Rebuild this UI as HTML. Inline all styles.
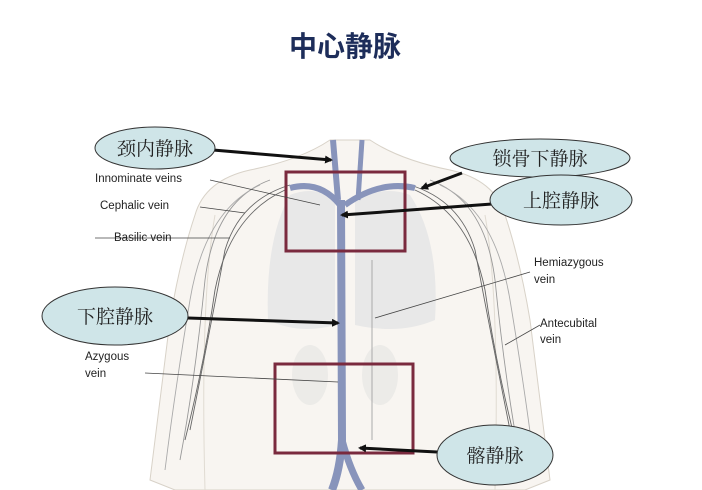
<!DOCTYPE html>
<html><head><meta charset="utf-8"><style>
body{margin:0;background:#fff;width:702px;height:490px;overflow:hidden}
svg{display:block}
</style></head><body>
<svg width="702" height="490" viewBox="0 0 702 490" xmlns="http://www.w3.org/2000/svg">
<defs><marker id="ah" markerWidth="8" markerHeight="8" refX="6" refY="4" orient="auto" markerUnits="userSpaceOnUse"><path d="M0,0 L8,4 L0,8 Z" fill="#111"/></marker></defs>
<text x="345" y="56" text-anchor="middle" font-family="Liberation Sans, Noto Sans CJK SC, sans-serif" font-size="28" font-weight="bold" fill="#1d2d5a">中心静脉</text>
<!-- torso -->
<path d="M250,170 Q205,180 195,215 Q180,260 170,320 Q160,400 150,480 L175,490 L525,490 L550,480 Q540,400 530,320 Q520,260 505,215 Q495,180 450,170 Q400,160 370,140 L330,140 Q300,160 250,170 Z" fill="#f8f5f1" stroke="#d8d2c8" stroke-width="1"/>
<path d="M215,215 Q200,300 205,490 M485,215 Q500,300 495,490" fill="none" stroke="#e0dbd2"/>
<!-- lungs -->
<path d="M290,195 Q265,240 268,320 Q300,335 335,325 L335,200 Q315,185 290,195 Z" fill="#e8e8e8"/>
<path d="M410,195 Q440,240 435,320 Q400,335 355,325 L355,200 Q385,185 410,195 Z" fill="#e8e8e8"/>
<ellipse cx="310" cy="375" rx="18" ry="30" fill="#ecebe8"/><ellipse cx="380" cy="375" rx="18" ry="30" fill="#ecebe8"/>
<!-- arm veins -->
<g fill="none" stroke="#666" stroke-width="0.9">
<path d="M290,185 Q240,200 225,250 Q210,330 190,430"/>
<path d="M285,190 Q230,215 215,290 Q205,360 185,440"/>
<path d="M410,185 Q460,200 475,250 Q490,330 510,430"/>
<path d="M415,190 Q470,215 485,290 Q495,360 515,440"/>
<path d="M270,180 Q215,200 205,280 Q195,380 180,460" stroke="#999"/>
<path d="M430,180 Q485,200 495,280 Q505,380 520,460" stroke="#999"/>
<path d="M260,185 Q205,210 190,300 Q175,390 165,470" stroke="#aaa"/>
<path d="M440,185 Q495,210 510,300 Q525,390 535,470" stroke="#aaa"/>
</g>
<!-- veins -->
<g fill="none" stroke="#8894bb">
<path d="M333,140 L338,200" stroke-width="6"/>
<path d="M362,140 L358,200" stroke-width="5"/>
<path d="M290,188 Q320,180 340,205" stroke-width="6"/>
<path d="M415,188 Q380,180 345,205" stroke-width="6"/>
<path d="M341,200 L342,440 Q340,470 332,490" stroke-width="8"/>
<path d="M342,440 Q350,470 362,490" stroke-width="7"/>
<path d="M372,260 L372,440" stroke="#aaa" stroke-width="1"/>
</g>
<!-- boxes -->
<rect x="286" y="172" width="119" height="79" fill="none" stroke="#7a2a3e" stroke-width="3"/>
<rect x="275" y="364" width="138" height="89" fill="none" stroke="#7a2a3e" stroke-width="3"/>
<!-- label lines -->
<g stroke="#444" stroke-width="0.8">
<line x1="210" y1="180" x2="320" y2="205"/>
<line x1="200" y1="207" x2="245" y2="213"/>
<line x1="95" y1="238" x2="230" y2="238"/>
<line x1="530" y1="272" x2="375" y2="318"/>
<line x1="540" y1="325" x2="505" y2="345"/>
<line x1="145" y1="373" x2="338" y2="382"/>
</g>
<g font-family="Liberation Sans, sans-serif" font-size="11.5" fill="#222">
<text x="95" y="182">Innominate veins</text>
<text x="100" y="209">Cephalic vein</text>
<text x="114" y="241">Basilic vein</text>
<text x="534" y="266">Hemiazygous</text><text x="534" y="283">vein</text>
<text x="540" y="327">Antecubital</text><text x="540" y="343">vein</text>
<text x="85" y="360">Azygous</text><text x="85" y="377">vein</text>
</g>
<!-- arrows -->
<g stroke="#111" stroke-width="3" marker-end="url(#ah)">
<line x1="213" y1="150" x2="331" y2="160"/>
<line x1="462" y1="173" x2="422" y2="188"/>
<line x1="492" y1="204" x2="342" y2="215"/>
<line x1="188" y1="318" x2="338" y2="323"/>
<line x1="437" y1="452" x2="360" y2="448"/>
</g>
<!-- ellipses -->
<g fill="#cfe5e8" stroke="#333" stroke-width="1">
<ellipse cx="155" cy="148" rx="60" ry="21"/>
<ellipse cx="540" cy="158" rx="90" ry="19"/>
<ellipse cx="561" cy="200" rx="71" ry="25"/>
<ellipse cx="115" cy="316" rx="73" ry="29"/>
<ellipse cx="495" cy="455" rx="58" ry="30"/>
</g>
<g font-family="Liberation Serif, Noto Serif CJK SC, serif" font-size="19" fill="#222" text-anchor="middle">
<text x="155" y="155">颈内静脉</text>
<text x="540" y="165">锁骨下静脉</text>
<text x="561" y="207">上腔静脉</text>
<text x="115" y="323">下腔静脉</text>
<text x="495" y="462">髂静脉</text>
</g>
</svg>
</body></html>
